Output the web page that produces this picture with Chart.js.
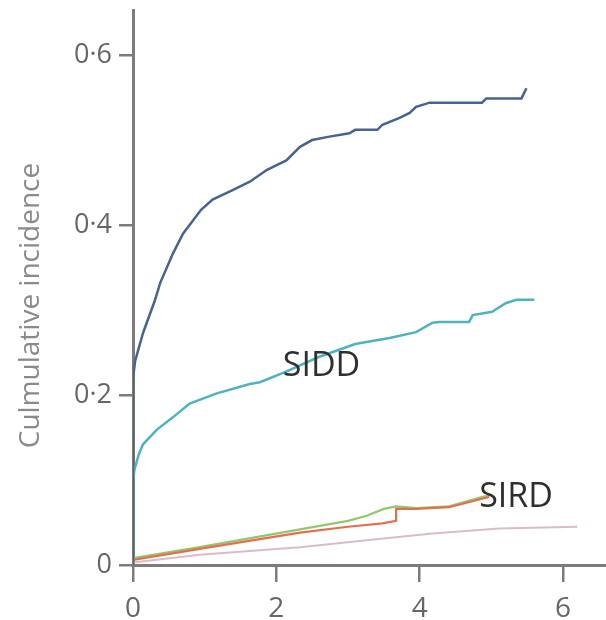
<!DOCTYPE html>
<html>
<head>
<meta charset="utf-8">
<script src="https://cdn.jsdelivr.net/npm/chart.js@4/dist/chart.umd.min.js"></script>
<style>
  html, body { margin: 0; padding: 0; background: #fff; }
  canvas { display: block; }
</style>
</head>
<body>
<canvas id="myChart" width="606" height="620"></canvas>
<script>
// tick values on both axes
const xTicks = [0, 2, 4, 6];
const yTicks = [0, 0.2, 0.4, 0.6];

// dark blue curve
const blueX = [0, 0, 0.03, 0.14, 0.3, 0.38, 0.56, 0.7, 0.79, 0.95, 1.11, 1.39, 1.63, 1.87, 2.14, 2.33, 2.5, 2.74, 3.02, 3.1, 3.41, 3.48, 3.72, 3.86, 3.95, 4.14, 4.87, 4.93, 5.42, 5.49];
const blueY = [0, 0.22, 0.24, 0.273, 0.31, 0.332, 0.367, 0.39, 0.4, 0.418, 0.43, 0.441, 0.451, 0.465, 0.476, 0.492, 0.5, 0.504, 0.508, 0.512, 0.512, 0.518, 0.526, 0.532, 0.539, 0.544, 0.544, 0.549, 0.549, 0.561];

// SIDD (cyan)
const siddX = [0, 0, 0.02, 0.08, 0.14, 0.33, 0.56, 0.79, 1.17, 1.63, 1.77, 2.12, 2.6, 3.1, 3.58, 3.95, 4.18, 4.27, 4.69, 4.74, 5.01, 5.2, 5.35, 5.6];
const siddY = [0, 0.1, 0.112, 0.13, 0.142, 0.159, 0.174, 0.19, 0.202, 0.213, 0.215, 0.227, 0.245, 0.26, 0.267, 0.274, 0.285, 0.286, 0.286, 0.294, 0.298, 0.308, 0.312, 0.312];

// SIRD (green)
const greenX = [0, 0.93, 2.33, 3.0, 3.26, 3.5, 3.67, 3.95, 4.41, 4.83, 4.97];
const greenY = [0.008, 0.021, 0.042, 0.052, 0.058, 0.066, 0.069, 0.067, 0.069, 0.079, 0.082];

// red-orange curve
const redX = [0, 0.93, 2.33, 3.0, 3.48, 3.67, 3.67, 3.95, 4.41, 4.83, 4.97];
const redY = [0.006, 0.019, 0.038, 0.045, 0.049, 0.052, 0.066, 0.066, 0.068, 0.077, 0.08];

// pale pink curve
const pinkX = [0, 0.93, 2.33, 3.26, 4.18, 5.11, 6.2];
const pinkY = [0.003, 0.012, 0.021, 0.029, 0.037, 0.043, 0.045];

const labelsText = ["SIDD", "SIRD"];
const labelsX = [2.09, 4.83];
const labelsY = [0.234, 0.08];

const pairs = (xs, ys) => xs.map((x, i) => ({ x: x, y: ys[i] }));

const axisColor = "#7c7c7c";

const textPlugin = {
  id: "texts",
  afterDatasetsDraw(chart) {
    const ctx = chart.ctx;
    const xs = chart.scales.x;
    const ys = chart.scales.y;
    ctx.save();
    ctx.fillStyle = "#2f2f2f";
    ctx.font = "34px 'Open Sans'";
    ctx.textAlign = "left";
    ctx.textBaseline = "middle";
    labelsText.forEach((t, i) => {
      ctx.fillText(t, xs.getPixelForValue(labelsX[i]), ys.getPixelForValue(labelsY[i]));
    });
    // y axis title
    const area = chart.chartArea;
    ctx.translate(31, (area.top + area.bottom) / 2 + 18);
    ctx.rotate(-Math.PI / 2);
    ctx.textAlign = "center";
    ctx.fillStyle = "#8a8a8a";
    ctx.font = "28px 'Open Sans'";
    ctx.fillText("Culmulative incidence", 0, 0);
    ctx.restore();
  },
};

new Chart(document.getElementById("myChart"), {
  type: "scatter",
  data: {
    datasets: [
      { data: pairs(blueX, blueY), borderColor: "#46648f", borderWidth: 2.5 },
      { data: pairs(siddX, siddY), borderColor: "#4fb3bf", borderWidth: 2.5 },
      { data: pairs(redX, redY), borderColor: "#e2704c", borderWidth: 2.2 },
      { data: pairs(greenX, greenY), borderColor: "#93c76f", borderWidth: 2.2 },
      { data: pairs(pinkX, pinkY), borderColor: "#d9bccb", borderWidth: 2 },
    ].map((d) => ({ ...d, showLine: true, pointRadius: 0, tension: 0, fill: false })),
  },
  options: {
    responsive: false,
    animation: false,
    devicePixelRatio: 1,
    layout: { padding: { top: 10, right: 0, left: 0, bottom: 0 } },
    plugins: { legend: { display: false }, tooltip: { enabled: false } },
    scales: {
      x: {
        type: "linear",
        min: 0,
        max: 6.6,
        afterBuildTicks: (scale) => { scale.ticks = xTicks.map((v) => ({ value: v })); },
        afterFit: (scale) => { scale.height = 55; scale.paddingLeft = 0; scale.paddingRight = 0; },
        ticks: {
          color: "#666",
          font: { family: "'Open Sans'", size: 28 },
          padding: 10,
          maxRotation: 0,
        },
        grid: { drawOnChartArea: false, tickLength: 17, color: axisColor, lineWidth: 2.5 },
        border: { color: axisColor, width: 3 },
      },
      y: {
        min: 0,
        max: 0.653,
        afterBuildTicks: (scale) => { scale.ticks = yTicks.map((v) => ({ value: v })); },
        afterFit: (scale) => { scale.width = 133; scale.paddingTop = 0; scale.paddingBottom = 0; },
        ticks: {
          color: "#666",
          font: { family: "'Open Sans'", size: 27 },
          padding: 7,
          callback: (v) => String(v).replace(".", "\u00b7"),
        },
        grid: { drawOnChartArea: false, tickLength: 14, color: axisColor, lineWidth: 2.5 },
        border: { color: axisColor, width: 3 },
      },
    },
  },
  plugins: [textPlugin],
});
</script>
</body>
</html>
